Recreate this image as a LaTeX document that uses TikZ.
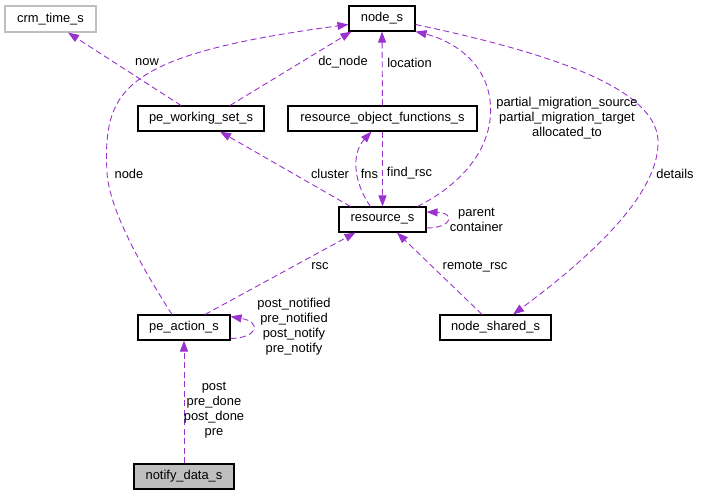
\documentclass[tikz,border=0pt]{standalone}
\usepackage{fontspec}
\setmainfont{Liberation Sans}
\usetikzlibrary{arrows.meta}
\definecolor{edgec}{HTML}{9A32CD}
\definecolor{graybd}{HTML}{BFBFBF}
\tikzset{
  cls/.style={draw=black, line width=1.1pt, fill=white, minimum height=25pt, inner sep=0pt, font=\fontsize{12.9}{15}\selectfont},
  lbl/.style={font=\fontsize{12.9}{15}\selectfont, align=center, inner sep=0pt},
  rel/.style={draw=edgec, line width=0.9pt, dash pattern=on 6pt off 3.5pt, -{Triangle[length=11pt,width=8pt]}, color=edgec}
}
\begin{document}
\begin{tikzpicture}[x=1pt, y=-1pt]
\useasboundingbox (0,0) rectangle (701,496);
% nodes
\node[cls, draw=graybd, minimum width=91pt, minimum height=26pt] (crm) at (50.5,19) {crm\_time\_s};
\node[cls, minimum width=66pt] (nodes) at (382,18.5) {node\_s};
\node[cls, minimum width=126pt] (pws) at (201,118.5) {pe\_working\_set\_s};
\node[cls, minimum width=189pt] (rof) at (382.5,118.5) {resource\_object\_functions\_s};
\node[cls, minimum width=87pt] (rs) at (382.5,219.5) {resource\_s};
\node[cls, minimum width=92pt] (pa) at (184,327.5) {pe\_action\_s};
\node[cls, minimum width=111pt] (ns) at (495.5,327.5) {node\_shared\_s};
\node[cls, fill=graybd, minimum width=100pt] (nd) at (184,476.5) {notify\_data\_s};
% edges
\draw[rel] ([xshift=-20pt]pws.north) -- ([xshift=17.5pt]crm.south);
\draw[rel] ([xshift=29pt]pws.north) -- ([xshift=3pt]nodes.south west);
\draw[rel] ([xshift=-12pt]pa.north) .. controls (150,280) and (110,215) .. (107,173)
  .. controls (103,90) and (120,55) .. ([yshift=-6pt]nodes.west);
\draw[rel] (rof.north) -- (nodes.south);
\draw[rel] ([xshift=-12pt]rs.north) .. controls (355,185) and (350,155) .. ([xshift=-11pt]rof.south);
\draw[rel] (rof.south) -- (rs.north);
\draw[rel] ([xshift=-32pt]rs.north) -- ([xshift=19pt]pws.south);
\draw[rel] ([xshift=35pt]rs.north) .. controls (470,180) and (495,140) .. (490,100)
  .. controls (485,60) and (450,40) .. (nodes.south east);
\draw[rel] ([yshift=-8.5pt]rs.east) .. controls (452,228) and (456,213) .. ([yshift=7.5pt]rs.east);
\draw[rel] ([xshift=21pt]pa.north) -- ([xshift=-27pt]rs.south);
\draw[rel] ([xshift=-13.5pt]ns.north) -- ([xshift=14.5pt]rs.south);
\draw[rel] ([yshift=-6pt]nodes.east) .. controls (560,55) and (655,90) .. (658,140)
  .. controls (660,190) and (600,250) .. ([xshift=17.5pt]ns.north);
\draw[rel] ([yshift=-11pt]pa.east) .. controls (258,338) and (262,322) .. ([yshift=11pt]pa.east);
\draw[rel] (nd.north) -- (pa.south);
% labels
\node[lbl] (l1) at (147,62.5) {now};
\node[lbl] (l2) at (343,62.5) {dc\_node};
\node[lbl] (l3) at (409.5,62.5) {location};
\node[lbl] (l4) at (129,173.5) {node};
\node[lbl] (l5) at (330,173.5) {cluster};
\node[lbl] (l6) at (369.5,173.5) {fns};
\node[lbl] (l7) at (409.5,173.5) {find\_rsc};
\node[lbl] (l8) at (567,118.5) {partial\_migration\_source\\partial\_migration\_target\\allocated\_to};
\node[lbl] (l9) at (675,173.5) {details};
\node[lbl] (l10) at (476.5,220) {parent\\container};
\node[lbl] (l11) at (320,266.5) {rsc};
\node[lbl] (l12) at (475,266.5) {remote\_rsc};
\node[lbl] (l13) at (294,327) {post\_notified\\pre\_notified\\post\_notify\\pre\_notify};
\node[lbl] (l14) at (214,410) {post\\pre\_done\\post\_done\\pre};
\end{tikzpicture}
\end{document}
